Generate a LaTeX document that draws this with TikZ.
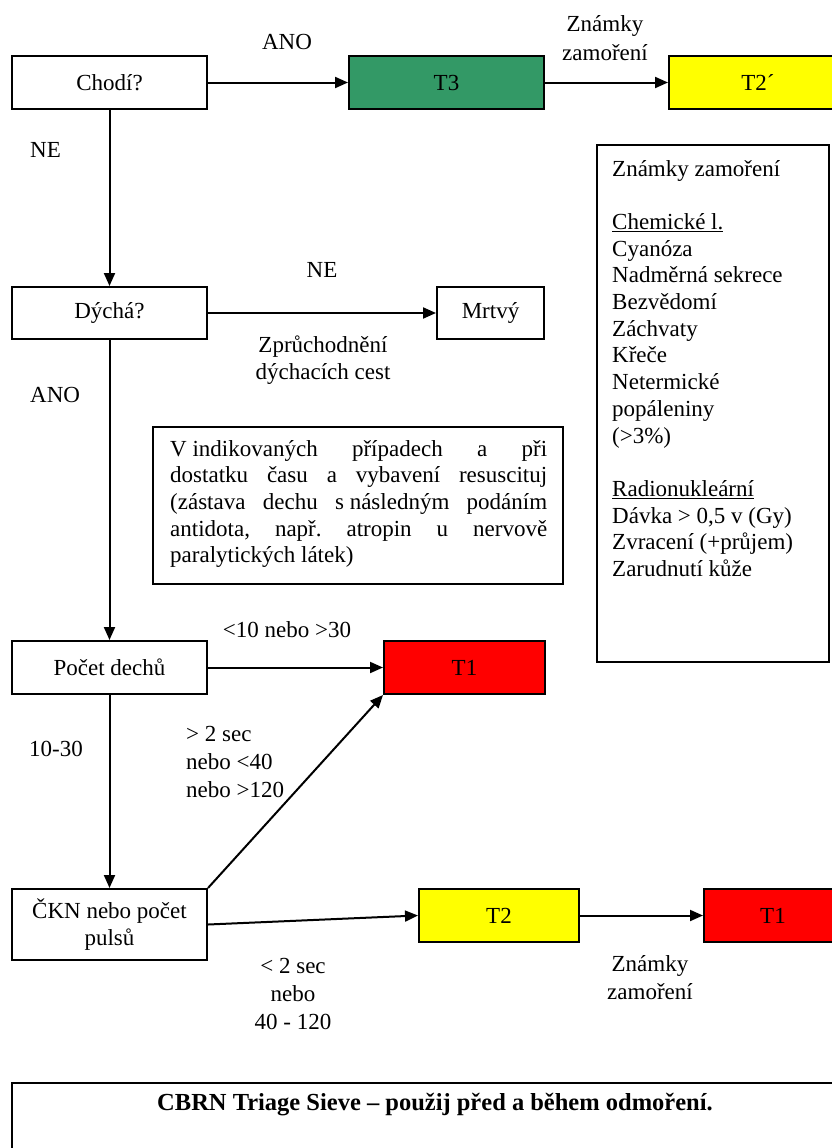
\documentclass[tikz,border=0pt]{standalone}
\usepackage{fontspec}
\setmainfont{Liberation Serif}
\usetikzlibrary{arrows.meta}
\definecolor{tgreen}{RGB}{51,153,102}
\definecolor{tyellow}{RGB}{255,255,0}
\definecolor{tred}{RGB}{255,0,0}

\begin{document}
\begin{tikzpicture}[x=1pt,y=-1pt,
  every node/.style={font=\fontsize{23}{27}\selectfont\frenchspacing, inner sep=0pt},
  box/.style={draw, line width=2pt, minimum height=53pt, align=center},
  flow/.style={line width=2pt, -{Triangle[length=13pt,width=11pt]}},
  lbl/.style={anchor=base},
  lblw/.style={anchor=base west}]
\useasboundingbox (0,0) rectangle (832,1148);

% decision boxes and triage categories
\node[box, minimum width=195pt] (chodi) at (109.5,82.5) {Chodí?};
\node[box, fill=tgreen, minimum width=195pt] (t3) at (446.5,82.5) {T3};
\node[box, fill=tyellow, minimum width=178pt] (t2p) at (758,82.5) {T2´};

\node[box, minimum width=195pt, minimum height=52pt] (dycha) at (109.5,313) {Dýchá?};
\node[box, minimum width=107pt, minimum height=52pt] (mrtvy) at (490.5,313) {Mrtvý};

\node[box, minimum width=195pt] (pocet) at (109.5,667.5) {Počet dechů};
\node[box, fill=tred, minimum width=161pt] (t1a) at (464.5,667.5) {T1};

\node[box, minimum width=195pt, minimum height=71pt] (ckn) at (109.5,924.5) {ČKN nebo počet\\pulsů};
\node[box, fill=tyellow, minimum width=160pt] (t2) at (499,915.5) {T2};
\node[box, fill=tred, minimum width=138pt] (t1b) at (773,915.5) {T1};

% connectors
\draw[flow] (chodi) -- (t3);
\draw[flow] (t3) -- (t2p);
\draw[flow] (chodi) -- (dycha);
\draw[flow] (dycha) -- (mrtvy);
\draw[flow] (dycha) -- (pocet);
\draw[flow] (pocet) -- (t1a);
\draw[flow] (pocet) -- (ckn);
\draw[flow] (ckn.north east) -- (t1a.south west);
\draw[flow] (ckn.east) -- (t2.west);
\draw[flow] (t2) -- (t1b);

% branch labels
\node[lbl] (ano1) at (287,49) {ANO};
\node[lbl] (zz1a) at (605,32) {Známky};
\node[lbl] (zz1b) at (605,60) {zamoření};
\node[lblw] (ne1) at (30,157) {NE};
\node[lbl] (ne2) at (322,277) {NE};
\node[lbl] (zpr1) at (323,352) {Zprůchodnění};
\node[lbl] (zpr2) at (323,379) {dýchacích cest};
\node[lblw] (ano2) at (30,402) {ANO};
\node[lbl] (lt10) at (287,637) {<10 nebo >30};
\node[lblw] (l1030) at (29,756) {10-30};
\node[lblw] (gt2a) at (186,741) {> 2 sec};
\node[lblw] (gt2b) at (186,769) {nebo <40};
\node[lblw] (gt2c) at (186,797) {nebo >120};
\node[lbl] (lt2a) at (293,973) {< 2 sec};
\node[lbl] (lt2b) at (293,1001) {nebo};
\node[lbl] (lt2c) at (293,1029) {40 - 120};
\node[lbl] (zz2a) at (650,971) {Známky};
\node[lbl] (zz2b) at (650,999) {zamoření};

% signs of contamination
\node[draw, line width=2pt, minimum width=232pt, minimum height=517pt] (signs) at (713,403.5) {};
\node[lblw] (s0) at (612,176) {Známky zamoření};
\node[lblw] (s2) at (612,229.4) {\underline{Chemické l.}};
\node[lblw] (s3) at (612,256.1) {Cyanóza};
\node[lblw] (s4) at (612,282.8) {Nadměrná sekrece};
\node[lblw] (s5) at (612,309.5) {Bezvědomí};
\node[lblw] (s6) at (612,336.2) {Záchvaty};
\node[lblw] (s7) at (612,362.9) {Křeče};
\node[lblw] (s8) at (612,389.6) {Netermické};
\node[lblw] (s9) at (612,416.3) {popáleniny};
\node[lblw] (s10) at (612,443) {(>3\%)};
\node[lblw] (s12) at (612,496.4) {\underline{Radionukleární}};
\node[lblw] (s13) at (612,523.1) {Dávka > 0,5 v (Gy)};
\node[lblw] (s14) at (612,549.8) {Zvracení (+průjem)};
\node[lblw] (s15) at (612,576.5) {Zarudnutí kůže};

% resuscitation note, justified line by line
\node[draw, line width=2pt, minimum width=410pt, minimum height=157pt] (note) at (358,505.5) {};
\node[lblw] (n1) at (170,456) {\makebox[377pt][s]{\mbox{V indikovaných} případech a při}};
\node[lblw] (n2) at (170,482.7) {\makebox[377pt][s]{dostatku času a vybavení resuscituj}};
\node[lblw] (n3) at (170,509.4) {\makebox[377pt][s]{(zástava dechu \mbox{s následným} podáním}};
\node[lblw] (n4) at (170,536.1) {\makebox[377pt][s]{antidota, např. atropin u nervově}};
\node[lblw] (n5) at (170,562.8) {paralytických látek)};

% footer
\node[draw, line width=2pt, minimum width=833pt, minimum height=77pt] (footer) at (428.5,1121.5) {};
\node[lbl] (title) at (435,1110) {\fontsize{24.5}{28}\selectfont\bfseries CBRN Triage Sieve – použij před a během odmoření.};
\end{tikzpicture}
\end{document}
